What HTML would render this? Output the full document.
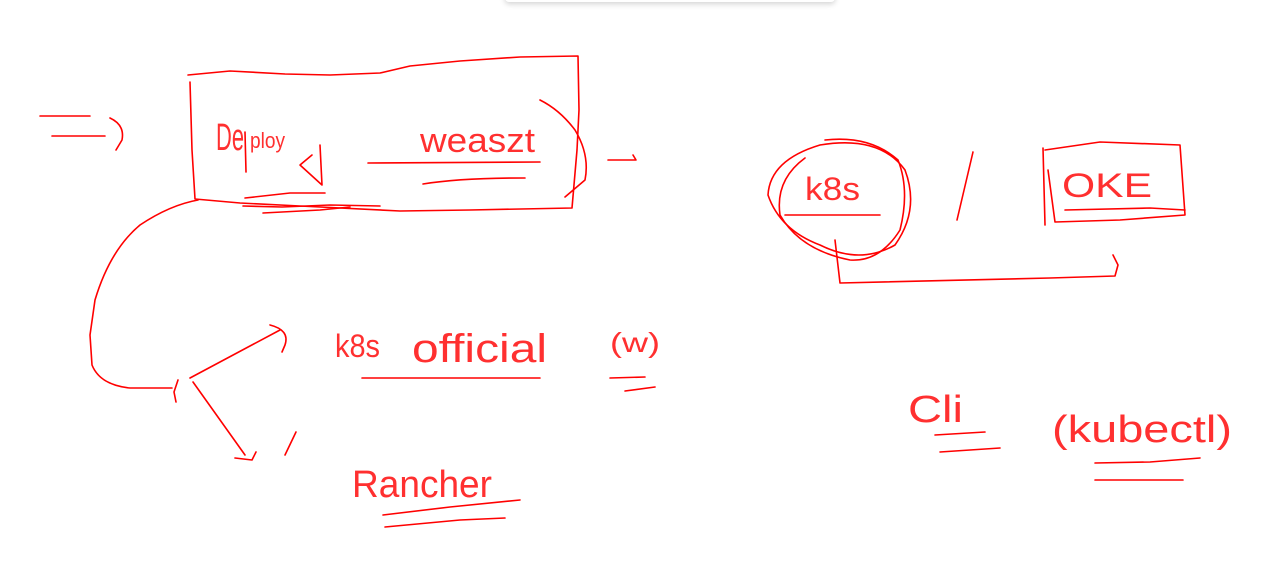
<!DOCTYPE html>
<html><head><style>
html,body{margin:0;padding:0;background:#fff;width:1284px;height:580px;overflow:hidden}
svg{position:absolute;left:0;top:0}
text{font-family:"Liberation Sans Narrow","Liberation Sans",sans-serif;fill:#ff3030;font-weight:normal;stroke:none}
</style></head><body>
<div style="position:absolute;left:505px;top:-10px;width:330px;height:12px;box-shadow:0 2px 6px rgba(0,0,0,0.18);background:#fff;border-radius:4px"></div>
<svg width="1284" height="580" viewBox="0 0 1284 580" fill="none" stroke="#ff0000" stroke-width="1.6" stroke-linecap="round" stroke-linejoin="round">
<path d="M40 116 L90 116"/><path d="M52 136 L105 136"/><path d="M110 118 Q125 125 122 140 L116 150"/>
<path d="M188 75 L230 71 L285 74 L330 75 L380 73 L410 66 L460 61 L520 57 L578 56 L579 110 L577 150 L572 208 L470 210 L400 211 L300 206 L240 203 L195 199 L192 150 L190 82"/>
<path d="M540 100 Q560 110 575 130 Q590 155 585 180 L565 197"/>
<text x="216" y="150" font-size="38" textLength="28" lengthAdjust="spacingAndGlyphs">De</text>
<path d="M245 132 L246 172"/>
<text x="250" y="148" font-size="22" textLength="35" lengthAdjust="spacingAndGlyphs">ploy</text>
<path d="M320 145 L322 185 L300 165 L312 155"/>
<text x="420" y="152" font-size="34" textLength="115" lengthAdjust="spacingAndGlyphs">weaszt</text>
<path d="M368 163 L540 162"/><path d="M423 184 Q460 178 525 178"/>
<path d="M245 198 L290 193 L325 193"/><path d="M243 206 L282 207 L330 205 L380 206"/>
<path d="M263 213 L320 210 L350 207"/>
<path d="M608 160 L636 160 L633 155"/>
<path d="M198 200 Q170 205 140 225 Q110 250 95 300 L90 335 L92 365 Q100 385 130 388 L172 388"/>
<path d="M178 380 L174 392 L176 402"/>
<path d="M190 378 L280 330"/><path d="M270 325 Q290 330 285 345 L282 352"/>
<path d="M193 382 L245 455"/><path d="M235 458 L252 460 L256 452"/>
<path d="M296 432 L285 455"/>
<text x="335" y="357" font-size="32" textLength="45" lengthAdjust="spacingAndGlyphs">k8s</text>
<text x="412" y="362" font-size="40" textLength="135" lengthAdjust="spacingAndGlyphs">official</text>
<path d="M362 378 L540 378"/>
<text x="610" y="352" font-size="28" textLength="50" lengthAdjust="spacingAndGlyphs">(w)</text>
<path d="M610 378 L645 377"/><path d="M625 391 L655 387"/>
<text x="352" y="497" font-size="38" textLength="140" lengthAdjust="spacingAndGlyphs">Rancher</text>
<path d="M383 515 L450 507 L520 500"/><path d="M385 527 L460 520 L505 518"/>
<path d="M820 145 Q880 135 905 170 Q920 210 895 245 Q860 265 820 245 Q780 230 768 195 Q770 160 820 145"/>
<path d="M825 140 Q870 135 898 160 Q910 190 900 230 Q880 262 850 260 Q800 250 780 215 Q775 180 805 158"/>
<text x="805" y="200" font-size="32" textLength="55" lengthAdjust="spacingAndGlyphs">k8s</text>
<path d="M785 215 L880 215"/>
<path d="M835 240 L840 283 L1050 278 L1115 276 L1118 265 L1113 255"/>
<path d="M973 152 L957 220"/>
<path d="M1045 150 L1100 142 L1180 145 L1185 215 L1120 220 L1055 222 L1048 170"/>
<path d="M1043 148 L1045 225"/>
<text x="1062" y="197" font-size="34" textLength="90" lengthAdjust="spacingAndGlyphs">OKE</text>
<path d="M1065 210 L1150 208 L1185 210"/>
<text x="908" y="422" font-size="38" textLength="55" lengthAdjust="spacingAndGlyphs">Cli</text>
<path d="M935 435 L985 432"/><path d="M940 452 L1000 448"/>
<text x="1052" y="442" font-size="38" textLength="180" lengthAdjust="spacingAndGlyphs">(kubectl)</text>
<path d="M1095 463 L1150 462 L1200 458"/><path d="M1095 480 L1183 480"/>
</svg>
</body></html>
